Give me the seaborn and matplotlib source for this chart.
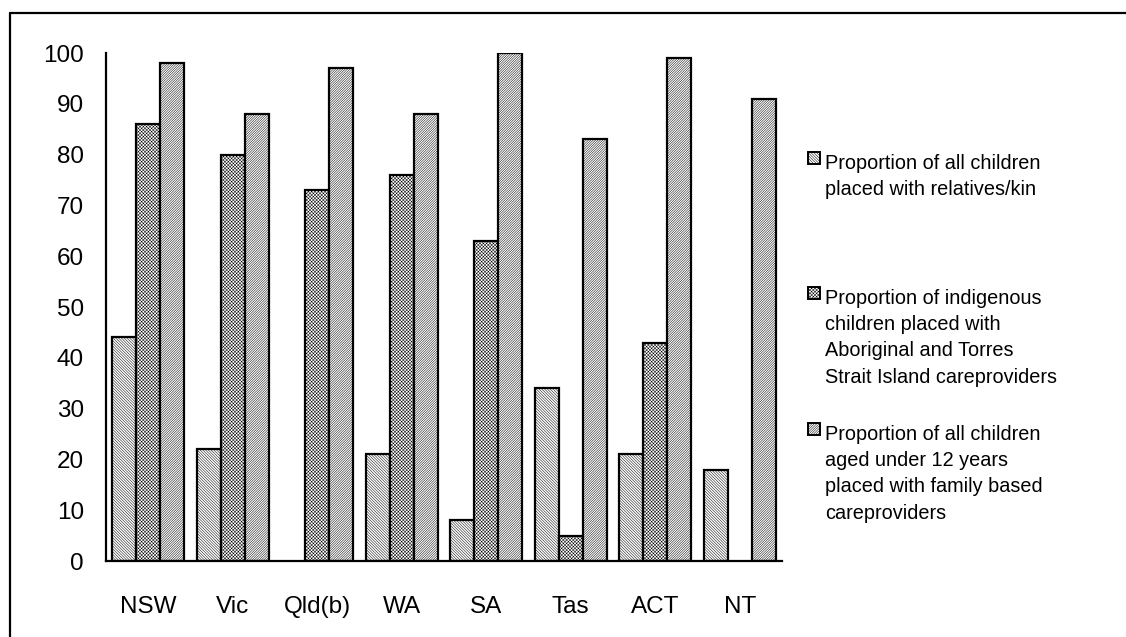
import numpy as np
import pandas as pd
import matplotlib
matplotlib.use("Agg")
import matplotlib.pyplot as plt
from matplotlib.patches import Rectangle
from matplotlib.lines import Line2D
import seaborn as sns

states = ["NSW", "Vic", "Qld(b)", "WA", "SA", "Tas", "ACT", "NT"]
series = [
    "Proportion of all children\nplaced with relatives/kin",
    "Proportion of indigenous\nchildren placed with\nAboriginal and Torres\nStrait Island careproviders",
    "Proportion of all children\naged under 12 years\nplaced with family based\ncareproviders",
]
relatives_kin = [44, 22, 0, 21, 8, 34, 21, 18]
indigenous_carers = [86, 80, 73, 76, 63, 5, 43, 0]
family_based_u12 = [98, 88, 97, 88, 100, 83, 99, 91]

hatches = ["\\" * 12, "x" * 10, "/" * 14]

sns.set_theme(style="white")
plt.rcParams["font.family"] = ["Liberation Sans", "DejaVu Sans"]
plt.rcParams["hatch.linewidth"] = 0.35
plt.rcParams["text.color"] = "black"
plt.rcParams["xtick.color"] = "black"
plt.rcParams["ytick.color"] = "black"

df = pd.DataFrame({
    "state": states * 3,
    "series": np.repeat(series, len(states)),
    "value": relatives_kin + indigenous_carers + family_based_u12,
})

W, H = 1126, 637
fig = plt.figure(figsize=(W / 100, H / 100), dpi=100)
ax = fig.add_axes([106 / W, 1 - 561 / H, (782 - 106) / W, (561 - 53) / H])

sns.barplot(data=df, x="state", y="value", hue="series", order=states,
            hue_order=series, palette=["white"] * 3, width=0.85, gap=0,
            saturation=1, legend=False, ax=ax)

for cont, hatch in zip(ax.containers, hatches):
    for bar in cont:
        if bar.get_height() <= 0:
            bar.set_visible(False)
            continue
        bar.set_hatch(hatch)
        bar.set_edgecolor("black")
        bar.set_linewidth(1.6)

ax.set_ylim(0, 100)
ax.set_xlim(-0.5, len(states) - 0.5)
ax.set_yticks(range(0, 101, 10))
ax.set_xlabel("")
ax.set_ylabel("")
ax.tick_params(axis="both", length=0, labelsize=17.5, labelcolor="black")
ax.tick_params(axis="y", pad=16)
ax.tick_params(axis="x", pad=25)
sns.despine(ax=ax)
for side in ["left", "bottom"]:
    ax.spines[side].set_color("black")
    ax.spines[side].set_linewidth(1.6)
ax.grid(False)

# legend: hatched squares with text beside them
leg_tops = [152, 287, 423]
for label, hatch, top in zip(series, hatches, leg_tops):
    fig.add_artist(Rectangle((808 / W, 1 - (top + 12) / H), 12 / W, 12 / H,
                             transform=fig.transFigure, facecolor="white",
                             edgecolor="black", linewidth=1.4, hatch=hatch))
    fig.text(825 / W, 1 - (top + 2) / H, label, ha="left", va="top",
             fontsize=14.3, linespacing=1.48, color="black")

# outer frame (top and left edges only)
fig.add_artist(Line2D([9.5 / W, 1], [1 - 12.5 / H, 1 - 12.5 / H],
                      transform=fig.transFigure, color="black", linewidth=1.6))
fig.add_artist(Line2D([9.5 / W, 9.5 / W], [0, 1 - 12.5 / H],
                      transform=fig.transFigure, color="black", linewidth=1.6))

fig.savefig("out.png", dpi=100)
